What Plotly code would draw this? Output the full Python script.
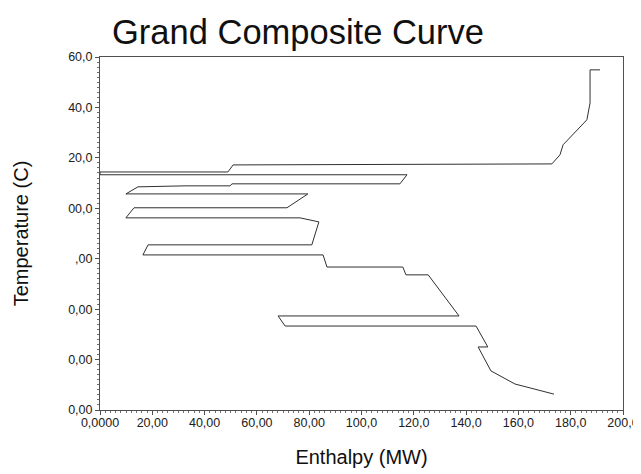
import plotly.graph_objects as go

# Grand composite curve vertices (Enthalpy MW, Temperature C)
enthalpy = [191.2, 187.4, 187.4, 186.2, 177.1, 175.9, 172.8, 50.9, 48.9, 0.0, 0.0,
            117.4, 114.7, 50.5, 49.7, 32.5, 14.5, 9.9, 79.5, 71.5, 13.0, 9.9,
            76.5, 83.7, 81.0, 18.4, 16.4, 85.3, 86.8, 115.8, 117.0, 125.5, 137.3,
            68.1, 70.8, 143.8, 148.3, 144.6, 149.5, 158.7, 173.6]
temperature = [154.9, 154.9, 141.8, 135.1, 125.2, 121.2, 117.6, 117.2, 114.4, 114.4, 113.3,
               113.3, 109.7, 109.7, 108.9, 108.9, 108.5, 105.7, 105.7, 100.2, 100.2, 96.2,
               96.2, 94.6, 85.5, 85.5, 81.5, 81.5, 76.7, 76.7, 73.6, 73.6, 57.3,
               57.3, 53.3, 53.3, 45.0, 45.0, 35.5, 30.3, 26.3]

x_tickvals = [0, 20, 40, 60, 80, 100, 120, 140, 160, 180, 200]
x_ticktext = ["0,0000", "20,00", "40,00", "60,00", "80,00", "100,0", "120,0",
              "140,0", "160,0", "180,0", "200,0"]
y_tickvals = [20, 40, 60, 80, 100, 120, 140, 160]
y_ticktext = ["0,00", "0,00", "0,00", ",00", "00,0", "20,0", "40,0", "60,0"]

FONT = "Liberation Sans, Arial"

fig = go.Figure()
fig.add_trace(go.Scatter(x=enthalpy, y=temperature, mode="lines",
                         line=dict(color="#303030", width=1), showlegend=False))

axis_common = dict(showline=True, linecolor="#505050", linewidth=1, mirror=True,
                   ticks="outside", ticklen=4, tickcolor="#505050", showgrid=False,
                   zeroline=False, automargin=False,
                   tickfont=dict(family=FONT, size=12.5, color="#202020"),
                   minor=dict(ticks="outside", ticklen=2, tickcolor="#707070", dtick=2, showgrid=False))

fig.update_xaxes(range=[0, 200], tickvals=x_tickvals, ticktext=x_ticktext, ticklabelstandoff=-3,
                 title=dict(text="Enthalpy (MW)", font=dict(family=FONT, size=20, color="#101010"),
                            standoff=20), **axis_common)
fig.update_yaxes(range=[20, 160], tickvals=y_tickvals, ticktext=y_ticktext,
                 title=dict(text="Temperature (C)", font=dict(family=FONT, size=20, color="#101010"),
                            standoff=34), **axis_common)

fig.update_layout(
    width=641, height=474,
    margin=dict(l=92, r=26, t=49, b=72),
    paper_bgcolor="white", plot_bgcolor="white",
    title=dict(text="Grand Composite Curve", x=104/641, xanchor="left", y=1 - 24/474, yanchor="middle",
               font=dict(family=FONT, size=34.5, color="#101010")),
)

fig.write_html("out.html")
